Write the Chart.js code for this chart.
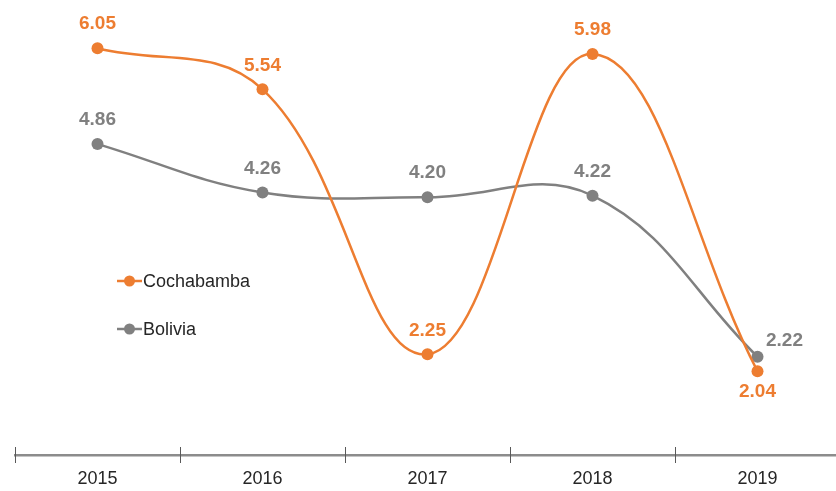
<!DOCTYPE html>
<html>
<head>
<meta charset="utf-8">
<script src="https://cdn.jsdelivr.net/npm/chart.js@4"></script>
<style>
  html, body { margin: 0; padding: 0; background: #fff; overflow: hidden; }
  #wrap { width: 846px; height: 491px; }
</style>
</head>
<body>
<div id="wrap"><canvas id="c"></canvas></div>
<script>
const years = ["2015", "2016", "2017", "2018", "2019"];
const cochabamba = [6.05, 5.54, 2.25, 5.98, 2.04];
const bolivia = [4.86, 4.26, 4.20, 4.22, 2.22];

const orange = "#ED7D31";
const gray = "#808080";
const font = "'Liberation Sans', Arial, sans-serif";

// where each value label sits relative to its point
const labelPlace = [
  ["above", "above", "above", "above", "below"],
  ["above", "above", "above", "above", "right"],
];

const valueLabels = {
  id: "valueLabels",
  afterDatasetsDraw(chart) {
    const { ctx } = chart;
    ctx.save();
    ctx.font = `bold 19px ${font}`;
    ctx.textAlign = "center";
    ctx.textBaseline = "middle";
    chart.data.datasets.forEach((ds, di) => {
      ctx.fillStyle = ds.borderColor;
      chart.getDatasetMeta(di).data.forEach((pt, i) => {
        const place = labelPlace[di][i];
        const txt = ds.data[i].toFixed(2);
        if (place === "above") ctx.fillText(txt, pt.x, pt.y - 24);
        else if (place === "below") ctx.fillText(txt, pt.x, pt.y + 21);
        else ctx.fillText(txt, pt.x + 27, pt.y - 16);
      });
    });
    ctx.restore();
  },
};

const axisTicks = {
  id: "axisTicks",
  afterDraw(chart) {
    const { ctx } = chart;
    const x = chart.scales.x;
    const half = (x.getPixelForValue(1) - x.getPixelForValue(0)) / 2;
    const y = chart.chartArea.bottom;
    ctx.save();
    ctx.strokeStyle = "#595959";
    ctx.lineWidth = 1;
    for (let i = 0; i <= years.length; i++) {
      const px = Math.round(x.getPixelForValue(i) - half) + 0.5;
      ctx.beginPath();
      ctx.moveTo(px, y - 8);
      ctx.lineTo(px, y + 8);
      ctx.stroke();
    }
    ctx.restore();
  },
};

const innerLegend = {
  id: "innerLegend",
  afterDraw(chart) {
    const { ctx } = chart;
    const rows = [281, 329];
    ctx.save();
    ctx.font = `18px ${font}`;
    ctx.textBaseline = "middle";
    chart.data.datasets.forEach((ds, di) => {
      const y = rows[di];
      ctx.strokeStyle = ds.borderColor;
      ctx.lineWidth = 2.5;
      ctx.beginPath();
      ctx.moveTo(117, y);
      ctx.lineTo(142, y);
      ctx.stroke();
      ctx.fillStyle = ds.borderColor;
      ctx.beginPath();
      ctx.arc(129.5, y, 5.5, 0, Math.PI * 2);
      ctx.fill();
      ctx.fillStyle = "#262626";
      ctx.fillText(ds.label, 143, y + 1);
    });
    ctx.restore();
  },
};

new Chart(document.getElementById("c"), {
  type: "line",
  data: {
    labels: years,
    datasets: [
      {
        label: "Cochabamba",
        data: cochabamba,
        borderColor: orange,
        backgroundColor: orange,
        pointBackgroundColor: orange,
        borderWidth: 2.5,
        pointRadius: 6,
        pointBorderWidth: 0,
        tension: 0.4,
      },
      {
        label: "Bolivia",
        data: bolivia,
        borderColor: gray,
        backgroundColor: gray,
        pointBackgroundColor: gray,
        borderWidth: 2.5,
        pointRadius: 6,
        pointBorderWidth: 0,
        tension: 0.4,
      },
    ],
  },
  options: {
    responsive: true,
    maintainAspectRatio: false,
    animation: false,
    layout: { padding: { left: 15, right: 1, top: 12, bottom: 1 } },
    plugins: { legend: { display: false }, tooltip: { enabled: false } },
    scales: {
      x: {
        offset: true,
        grid: { display: false, drawTicks: false },
        border: { display: true, color: "#8c8c8c", width: 2.5 },
        ticks: { color: "#262626", padding: 13, font: { family: font, size: 18 } },
        afterFit(scale) { scale.height = 35; },
      },
      y: {
        display: false,
        min: 1,
        max: 6.5,
      },
    },
  },
  plugins: [valueLabels, axisTicks, innerLegend],
});
</script>
</body>
</html>
